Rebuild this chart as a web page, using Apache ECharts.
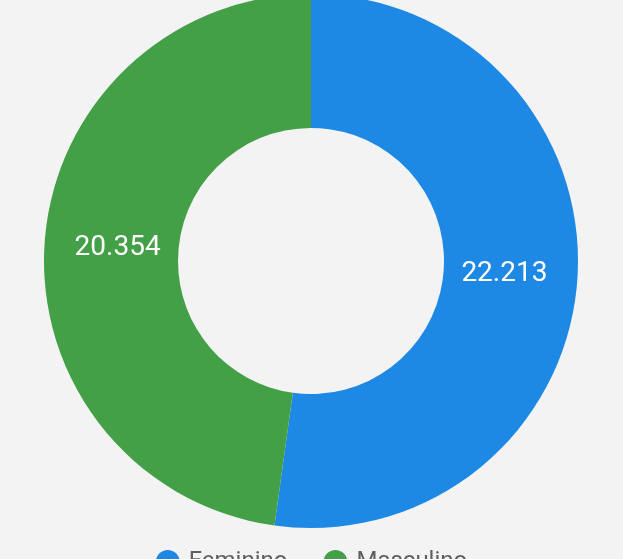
<!DOCTYPE html>
<html>
<head>
<meta charset="utf-8">
<script src="https://cdn.jsdelivr.net/npm/echarts@6/dist/echarts.min.js"></script>
<style>
  html, body { margin: 0; padding: 0; background: #f3f3f3; }
  #chart { width: 623px; height: 559px; }
</style>
</head>
<body>
<div id="chart"></div>
<script>
const categories = ['Feminino', 'Masculino']
const values = [22213, 20354]
const colors = ['#1e88e5', '#43a047']

const cx = 311
const cy = 261

const chart = echarts.init(document.getElementById('chart'))

const option = {
  backgroundColor: '#f3f3f3',
  color: colors,
  legend: {
    left: 'center',
    top: 545,
    icon: 'circle',
    itemWidth: 24,
    itemHeight: 24,
    itemGap: 36,
    textStyle: {
      fontFamily: 'Roboto',
      fontSize: 24,
      color: '#5f5f5f',
      padding: [0, 0, 0, 4]
    },
    data: categories
  },
  series: [
    {
      type: 'pie',
      center: [cx, cy],
      radius: [133, 267],
      startAngle: 90,
      clockwise: true,
      avoidLabelOverlap: false,
      label: {
        show: true,
        position: 'inside',
        color: '#fff',
        fontFamily: 'Roboto',
        fontSize: 28,
        formatter: p => p.value.toLocaleString('de-DE')
      },
      // pull the labels a little toward the hole
      labelLayout: p => {
        const lx = p.labelRect.x + p.labelRect.width / 2
        const ly = p.labelRect.y + p.labelRect.height / 2
        return {
          x: cx + (lx - cx) * 0.955,
          y: cy + (ly - cy) * 0.955,
          align: 'center',
          verticalAlign: 'middle'
        }
      },
      labelLine: { show: false },
      emphasis: { disabled: true },
      data: categories.map((name, i) => ({ name, value: values[i] }))
    }
  ]
}

chart.setOption(option)
</script>
</body>
</html>
